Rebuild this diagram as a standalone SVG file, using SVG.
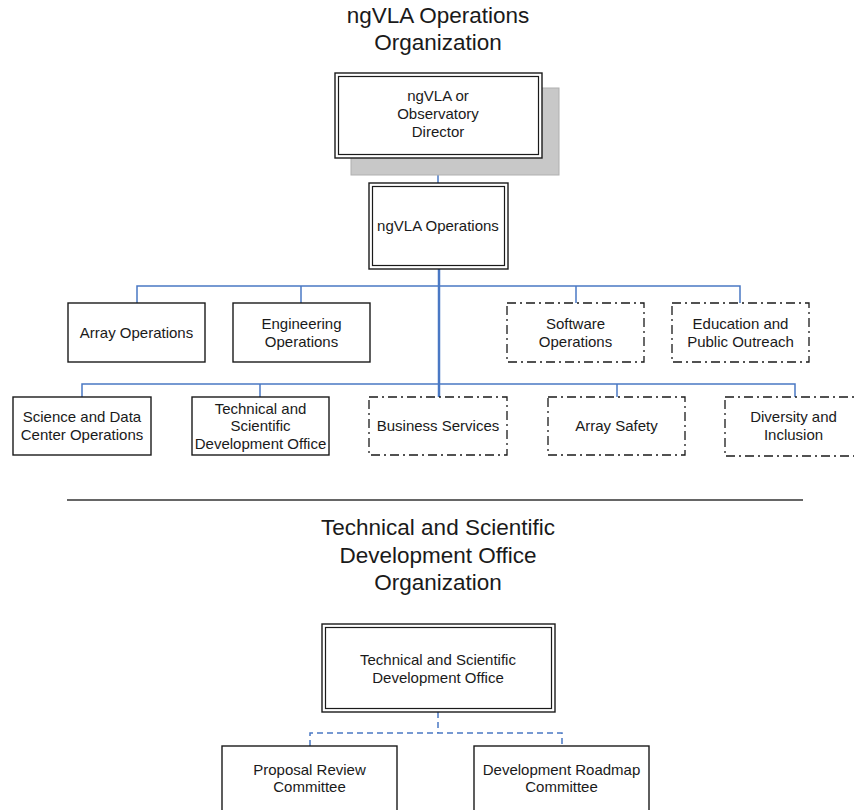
<svg xmlns="http://www.w3.org/2000/svg" width="854" height="810" viewBox="0 0 854 810">
<style>
text{font-family:"Liberation Sans",Arial,sans-serif;fill:#1a1a1a;text-anchor:middle}
.t{font-size:15px}
.h{font-size:22.5px}
.box{fill:#fff;stroke:#1a1a1a;stroke-width:1.4}
.dd{fill:#fff;stroke:#1a1a1a;stroke-width:1.3;stroke-dasharray:9 4 2 4}
.in{fill:none;stroke:#1a1a1a;stroke-width:1.2}
.c{fill:none;stroke:#4a78c4;stroke-width:1.5}
.cm{fill:none;stroke:#4a78c4;stroke-width:2.5}
.cd{fill:none;stroke:#4a78c4;stroke-width:1.5;stroke-dasharray:6 4}
</style>
<g id="titles">
<text class="h" x="438" y="23">ngVLA Operations</text>
<text class="h" x="438" y="50">Organization</text>
<line x1="67" y1="500" x2="803" y2="500" stroke="#333" stroke-width="1.6"/>
<text class="h" x="438" y="535">Technical and Scientific</text>
<text class="h" x="438" y="563">Development Office</text>
<text class="h" x="438" y="590">Organization</text>
</g>
<g id="connectors">
<line class="c" x1="438" y1="158" x2="438" y2="183"/>
<line class="cm" x1="439" y1="269" x2="439" y2="397"/>
<polyline class="c" points="137,303 137,286 740,286 740,303"/>
<line class="c" x1="301" y1="286" x2="301" y2="303"/>
<line class="c" x1="576" y1="286" x2="576" y2="303"/>
<polyline class="c" points="82,397 82,384 795,384 795,397"/>
<line class="c" x1="260" y1="384" x2="260" y2="397"/>
<line class="c" x1="617" y1="384" x2="617" y2="397"/>
<line class="cd" x1="438" y1="712" x2="438" y2="733"/>
<polyline class="cd" points="310,746 310,733 562,733 562,746"/>
</g>
<g id="director">
<rect x="351" y="88" width="208" height="87" fill="#c8c8c8" stroke="#b0b0b0" stroke-width="1"/>
<rect class="box" x="335" y="73" width="207" height="85"/>
<rect class="in" x="338.5" y="76.5" width="200" height="78"/>
<text class="t" x="438" y="101">ngVLA or</text>
<text class="t" x="438" y="119">Observatory</text>
<text class="t" x="438" y="137">Director</text>
</g>
<g id="ngvla-operations">
<rect class="box" x="369" y="183" width="139" height="86"/>
<rect class="in" x="372.5" y="186.5" width="132" height="79"/>
<text class="t" x="438" y="231">ngVLA Operations</text>
</g>
<g id="array-operations">
<rect class="box" x="68" y="303" width="137" height="59"/>
<text class="t" x="136.5" y="338">Array Operations</text>
</g>
<g id="engineering-operations">
<rect class="box" x="233" y="303" width="137" height="59"/>
<text class="t" x="301.5" y="329">Engineering</text>
<text class="t" x="301.5" y="346.5">Operations</text>
</g>
<g id="software-operations">
<rect class="dd" x="507" y="303" width="137" height="59"/>
<text class="t" x="575.5" y="329">Software</text>
<text class="t" x="575.5" y="346.5">Operations</text>
</g>
<g id="education">
<rect class="dd" x="672" y="303" width="137" height="59"/>
<text class="t" x="740.5" y="329">Education and</text>
<text class="t" x="740.5" y="346.5">Public Outreach</text>
</g>
<g id="science-data">
<rect class="box" x="13" y="397" width="138" height="58"/>
<text class="t" x="82" y="422">Science and Data</text>
<text class="t" x="82" y="439.5">Center Operations</text>
</g>
<g id="tsdo">
<rect class="box" x="192" y="397" width="137" height="58"/>
<text class="t" x="260.5" y="413.5">Technical and</text>
<text class="t" x="260.5" y="431">Scientific</text>
<text class="t" x="260.5" y="448.5">Development Office</text>
</g>
<g id="business-services">
<rect class="dd" x="369" y="397" width="138" height="58"/>
<text class="t" x="438" y="431">Business Services</text>
</g>
<g id="array-safety">
<rect class="dd" x="548" y="397" width="137" height="58"/>
<text class="t" x="616.5" y="431">Array Safety</text>
</g>
<g id="diversity">
<rect class="dd" x="725" y="397" width="137" height="59"/>
<text class="t" x="793.5" y="422">Diversity and</text>
<text class="t" x="793.5" y="439.5">Inclusion</text>
</g>
<g id="tsdo-office">
<rect class="box" x="322" y="624" width="233" height="88"/>
<rect class="in" x="325.5" y="627.5" width="226" height="81"/>
<text class="t" x="438" y="665">Technical and Scientific</text>
<text class="t" x="438" y="682.5">Development Office</text>
</g>
<g id="proposal-review">
<rect class="box" x="222" y="746" width="175" height="80"/>
<text class="t" x="309.5" y="774.5">Proposal Review</text>
<text class="t" x="309.5" y="792">Committee</text>
</g>
<g id="roadmap">
<rect class="box" x="474" y="746" width="175" height="80"/>
<text class="t" x="561.5" y="774.5">Development Roadmap</text>
<text class="t" x="561.5" y="792">Committee</text>
</g>
</svg>
